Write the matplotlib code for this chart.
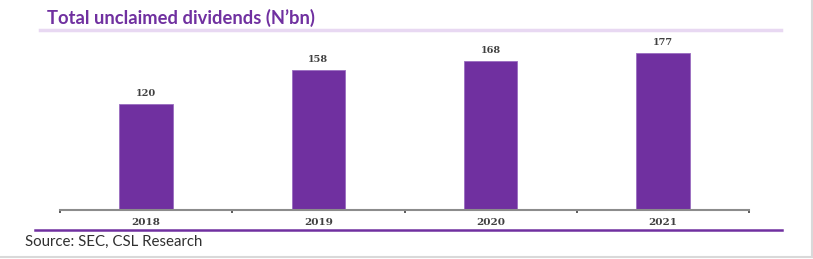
import matplotlib
matplotlib.use("Agg")
import matplotlib.pyplot as plt
from matplotlib.lines import Line2D

years = ["2018", "2019", "2020", "2021"]
values = [120, 158, 168, 177]
title = "Total unclaimed dividends (N\u2019bn)"
source = "Source: SEC, CSL Research"

W, H = 813, 259
fig = plt.figure(figsize=(W/100, H/100), dpi=100)
fig.patch.set_facecolor("white")

def fx(px): return px / W
def fy(py): return 1 - py / H

ax = fig.add_axes([fx(60), fy(210), fx(749) - fx(60), fy(30) - fy(210)])
x = range(len(years))
bars = ax.bar(x, values, width=0.31, color="#7030A0", edgecolor="#9A6CC0", linewidth=0.6, zorder=2)
ax.set_xlim(-0.5, len(years) - 0.5)
ax.set_ylim(0, 203)
for s in ["left", "top", "right"]:
    ax.spines[s].set_visible(False)
ax.spines["bottom"].set_color("#8C8C8C")
ax.spines["bottom"].set_linewidth(1.5)
ax.set_yticks([])
ax.set_xticks([i - 0.5 for i in range(len(years) + 1)])
ax.set_xticklabels([])
ax.tick_params(axis="x", length=2.5, width=1.2, color="#404040", direction="out")
for i, (yr, v) in enumerate(zip(years, values)):
    ax.annotate(str(v), (i, v), xytext=(0, 4), textcoords="offset points",
                ha="center", va="bottom", fontsize=7, fontweight="bold",
                color="#404040", family="DejaVu Serif")
    ax.annotate(yr, (i, 0), xytext=(0, -6), textcoords="offset points",
                ha="center", va="top", fontsize=7.5, fontweight="bold",
                color="#404040", family="DejaVu Serif")

fig.text(fx(47), fy(18), title, fontsize=13.2, fontweight="bold", color="#7030A0",
         family="Lato", ha="left", va="center")
fig.add_artist(Line2D([fx(40), fx(781)], [fy(30), fy(30)], color="#E8D8F2", lw=2.5))
fig.add_artist(Line2D([fx(35), fx(782)], [fy(230), fy(230)], color="#7030A0", lw=1.8))
fig.text(fx(25), fy(242), source, fontsize=10.8, color="#303030", family="Lato",
         ha="left", va="center")
fig.add_artist(Line2D([fx(812), fx(812)], [fy(0), fy(257)], color="#D9D9D9", lw=1.5))
fig.add_artist(Line2D([0, 1], [fy(257), fy(257)], color="#D9D9D9", lw=1.5))

fig.savefig("out.png", dpi=100)
